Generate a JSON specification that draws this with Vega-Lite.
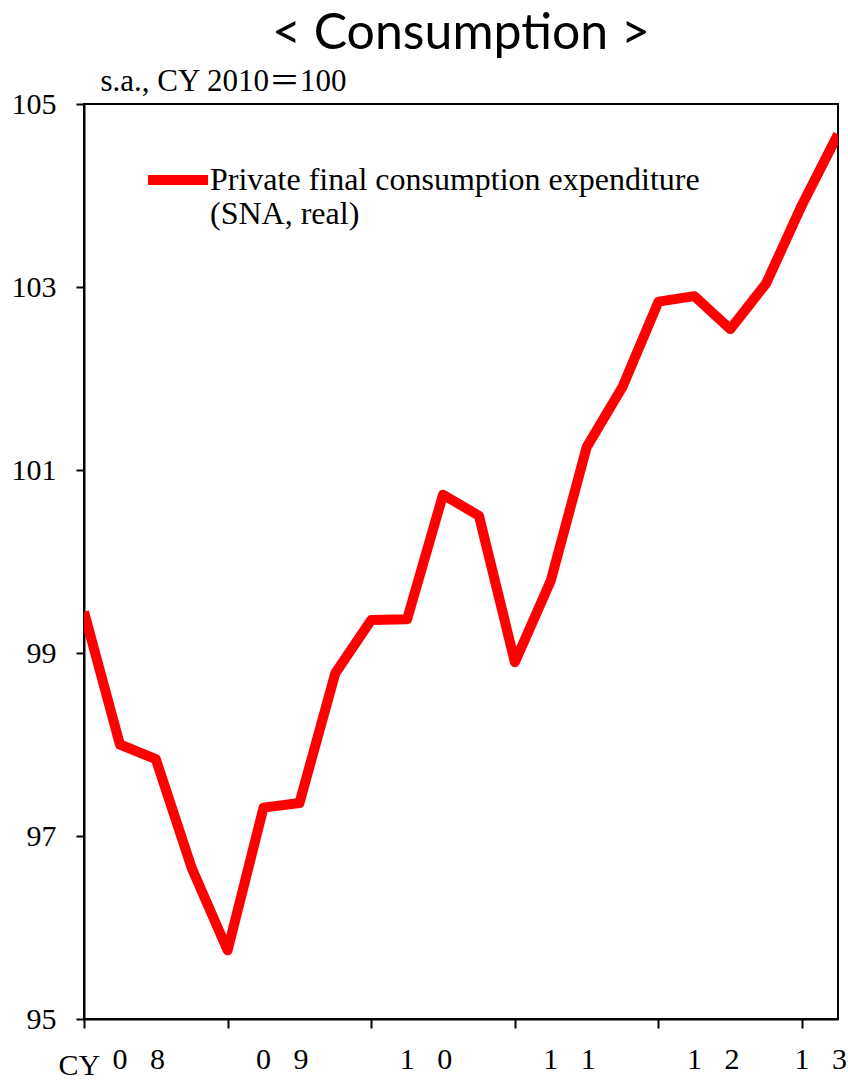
{
  "$schema": "https://vega.github.io/schema/vega-lite/v6.json",
  "width": 754,
  "height": 915,
  "autosize": {"type": "none"},
  "padding": {"left": 84, "top": 104, "right": 10, "bottom": 62},
  "background": "white",
  "title": {
    "text": "< Consumption >",
    "font": "Lato",
    "fontSize": 50,
    "fontWeight": "normal",
    "color": "black",
    "anchor": "middle",
    "frame": "group",
    "baseline": "alphabetic",
    "offset": -34
  },
  "config": {
    "view": {"stroke": "black", "strokeWidth": 2},
    "axis": {"grid": false}
  },
  "data": {
    "values": [
      {"q": 0, "period": "2008Q1", "v": 99.45},
      {"q": 1, "period": "2008Q2", "v": 98.0},
      {"q": 2, "period": "2008Q3", "v": 97.84},
      {"q": 3, "period": "2008Q4", "v": 96.65},
      {"q": 4, "period": "2009Q1", "v": 95.75},
      {"q": 5, "period": "2009Q2", "v": 97.31},
      {"q": 6, "period": "2009Q3", "v": 97.36},
      {"q": 7, "period": "2009Q4", "v": 98.78},
      {"q": 8, "period": "2010Q1", "v": 99.36},
      {"q": 9, "period": "2010Q2", "v": 99.37},
      {"q": 10, "period": "2010Q3", "v": 100.73},
      {"q": 11, "period": "2010Q4", "v": 100.5},
      {"q": 12, "period": "2011Q1", "v": 98.9},
      {"q": 13, "period": "2011Q2", "v": 99.79},
      {"q": 14, "period": "2011Q3", "v": 101.25},
      {"q": 15, "period": "2011Q4", "v": 101.91},
      {"q": 16, "period": "2012Q1", "v": 102.84},
      {"q": 17, "period": "2012Q2", "v": 102.9},
      {"q": 18, "period": "2012Q3", "v": 102.54},
      {"q": 19, "period": "2012Q4", "v": 103.04},
      {"q": 20, "period": "2013Q1", "v": 103.9},
      {"q": 21, "period": "2013Q2", "v": 104.67}
    ]
  },
  "mark": {"type": "line", "strokeWidth": 10, "strokeJoin": "round", "clip": true},
  "encoding": {
    "x": {
      "field": "q",
      "type": "quantitative",
      "scale": {"domain": [0, 21], "nice": false, "zero": false},
      "axis": {
        "values": [0, 4, 8, 12, 16, 20],
        "title": "CY",
        "titleFont": "Liberation Serif",
        "titleFontSize": 30,
        "titleFontWeight": "normal",
        "titleColor": "black",
        "titleAlign": "left",
        "titleBaseline": "alphabetic",
        "titleAnchor": "start",
        "titleX": -26,
        "titleY": 55,
        "domainColor": "black",
        "domainWidth": 2,
        "tickColor": "black",
        "tickWidth": 2,
        "tickSize": 9,
        "labelFont": "Liberation Serif",
        "labelFontSize": 30,
        "labelColor": "black",
        "labelBaseline": "alphabetic",
        "labelAlign": "left",
        "labelPadding": 40,
        "labelOffset": {"condition": {"test": "datum.value == 20", "value": -8}, "value": 28},
        "labelExpr": "['0\u00a0\u00a0\u00a08','0\u00a0\u00a0\u00a09','1\u00a0\u00a0\u00a00','1\u00a0\u00a0\u00a01','1\u00a0\u00a0\u00a02','1\u00a0\u00a0\u00a03'][datum.value / 4]",
        "labelOverlap": false,
        "labelFlush": false
      }
    },
    "y": {
      "field": "v",
      "type": "quantitative",
      "scale": {"domain": [95, 105], "nice": false, "zero": false},
      "axis": {
        "values": [95, 97, 99, 101, 103, 105],
        "title": "s.a., CY 2010＝100",
        "titleFont": "Liberation Serif, Noto Sans CJK JP",
        "titleFontSize": 31,
        "titleFontWeight": "normal",
        "titleColor": "black",
        "titleAngle": 0,
        "titleAlign": "left",
        "titleBaseline": "alphabetic",
        "titleAnchor": "start",
        "titleX": 16,
        "titleY": -14,
        "domainColor": "black",
        "domainWidth": 2,
        "tickColor": "black",
        "tickWidth": 2,
        "tickSize": 8,
        "labelFont": "Liberation Serif",
        "labelFontSize": 30,
        "labelColor": "black",
        "labelPadding": 20,
        "labelOverlap": false,
        "labelFlush": false
      }
    },
    "color": {
      "datum": "Private final consumption expenditure (SNA, real)",
      "type": "nominal",
      "scale": {"range": ["#ff0000"]},
      "legend": {
        "orient": "none",
        "legendX": 59,
        "legendY": 51,
        "title": null,
        "symbolType": "M-1,-0.333H1",
        "symbolStrokeWidth": 10,
        "symbolSize": 3600,
        "symbolFillColor": "transparent",
        "labelFont": "Liberation Serif",
        "labelFontSize": 32,
        "labelColor": "black",
        "labelLimit": 0,
        "labelOffset": -3,
        "labelBaseline": "alphabetic",
        "labelExpr": "['Private final consumption expenditure', '(SNA, real)']",
        "padding": 0
      }
    }
  }
}
